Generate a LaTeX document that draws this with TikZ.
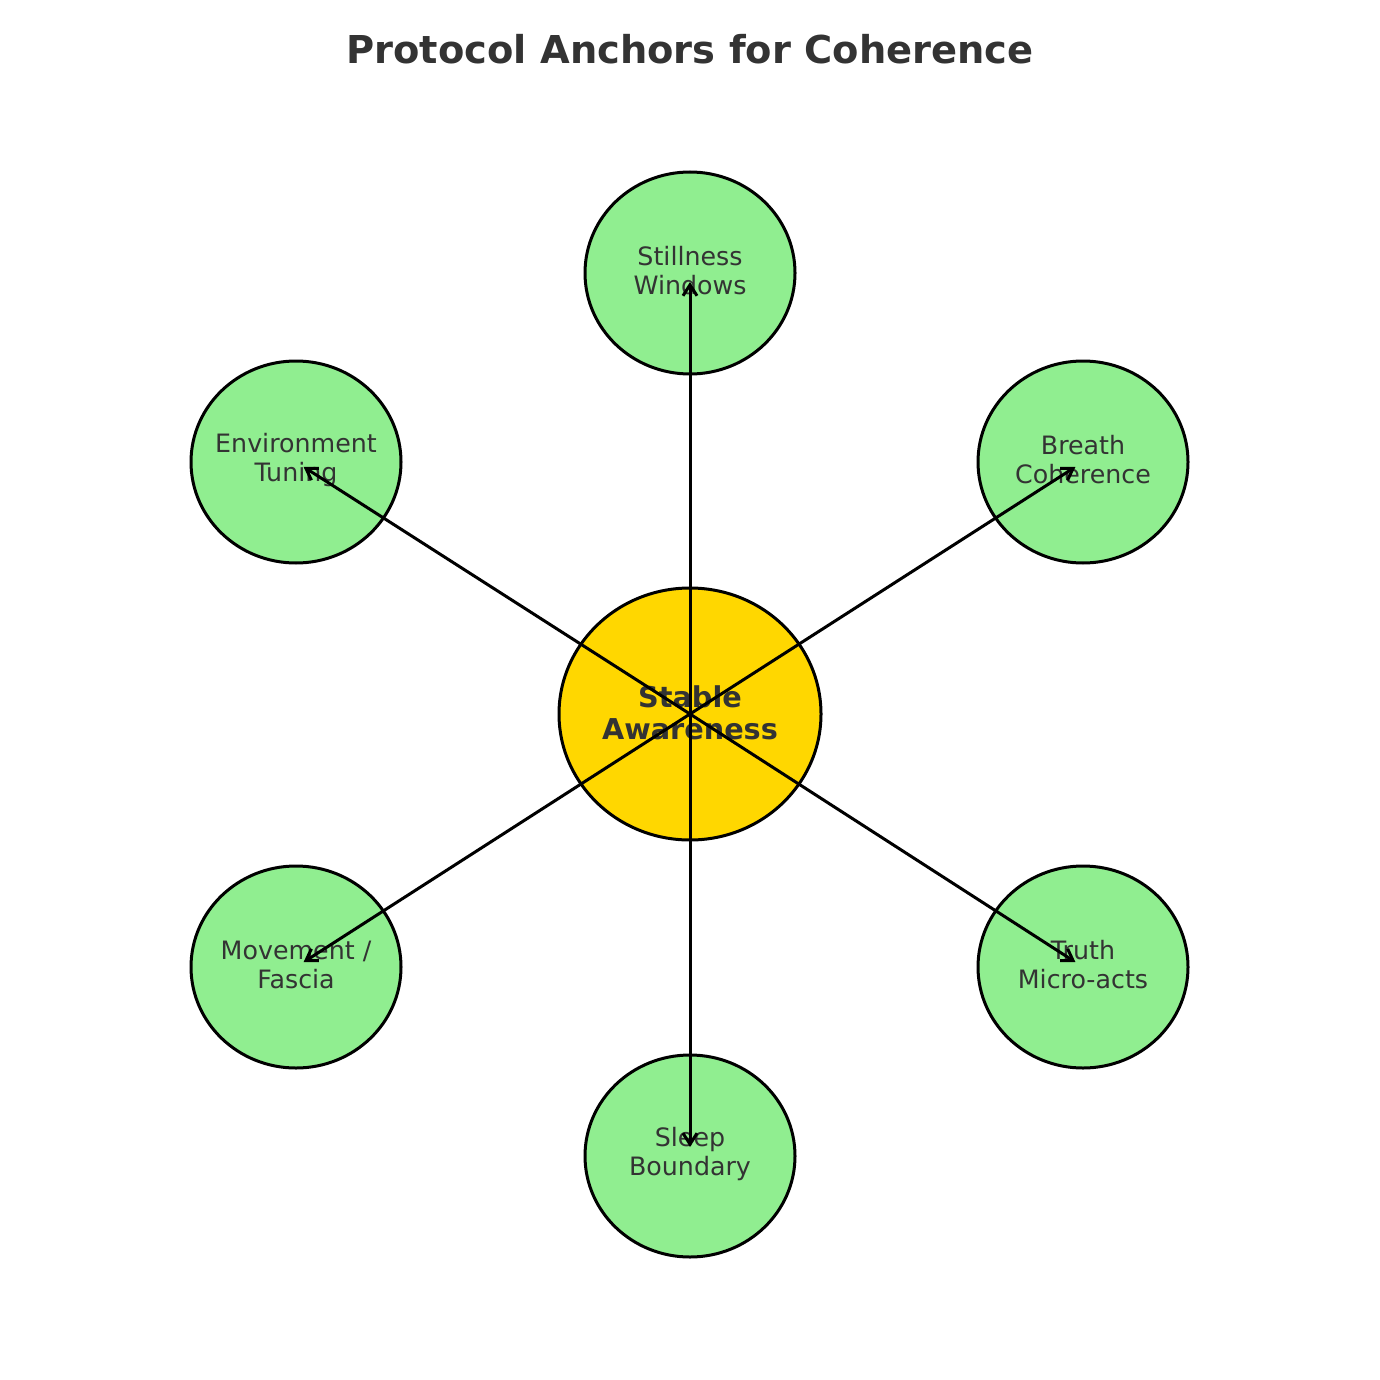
\documentclass[tikz,border=0pt]{standalone}
\usepackage{fontspec}
\setmainfont{DejaVu Sans}
\usetikzlibrary{shapes.geometric,arrows.meta}
\definecolor{txt}{HTML}{333333}
\definecolor{lgreen}{HTML}{90EE90}
\definecolor{hubgold}{HTML}{FFD700}
\begin{document}
\begin{tikzpicture}[x=1pt,y=-1pt,
  anchorbox/.style={ellipse, draw=black, line width=3pt, fill=lgreen, minimum width=210pt, minimum height=202pt, inner sep=0pt},
  hubbox/.style={ellipse, draw=black, line width=3pt, fill=hubgold, minimum width=262pt, minimum height=252pt, inner sep=0pt},
  lbl/.style={text=txt, font=\fontsize{25.3}{29}\selectfont, align=center, inner sep=0pt},
  hublbl/.style={text=txt, font=\fontsize{28.7}{31.5}\selectfont\bfseries, align=center, inner sep=0pt},
  spoke/.style={line width=3pt, -{Straight Barb[length=11pt,width=14pt]}, shorten >=9pt}]
\useasboundingbox (0,0) rectangle (1380,1380);
\node[text=txt, font=\fontsize{38.4}{44}\selectfont\bfseries, anchor=base] (title) at (690,64) {Protocol Anchors for Coherence};

\node[hubbox] (hub) at (690,714) {};
\node[anchorbox] (still) at (690,273) {};
\node[anchorbox] (env) at (296,462) {};
\node[anchorbox] (breath) at (1083,462) {};
\node[anchorbox] (move) at (296,967) {};
\node[anchorbox] (truth) at (1083,967) {};
\node[anchorbox] (sleep) at (690,1156) {};

\node[hublbl] (hubt) at (690,713) {Stable\\Awareness};
\node[lbl] (stillt) at (690,271) {Stillness\\Windows};
\node[lbl] (envt) at (296,460) {Environment\\Tuning};
\node[lbl] (breatht) at (1083,460) {Breath\\Coherence};
\node[lbl] (movet) at (296,965) {Movement /\\Fascia};
\node[lbl] (trutht) at (1083,965) {Truth\\Micro-acts};
\node[lbl] (sleept) at (690,1154) {Sleep\\Boundary};

\draw[spoke] (hub.center) -- (still.center);
\draw[spoke] (hub.center) -- (env.center);
\draw[spoke] (hub.center) -- (breath.center);
\draw[spoke] (hub.center) -- (move.center);
\draw[spoke] (hub.center) -- (truth.center);
\draw[spoke] (hub.center) -- (sleep.center);
\end{tikzpicture}
\end{document}
